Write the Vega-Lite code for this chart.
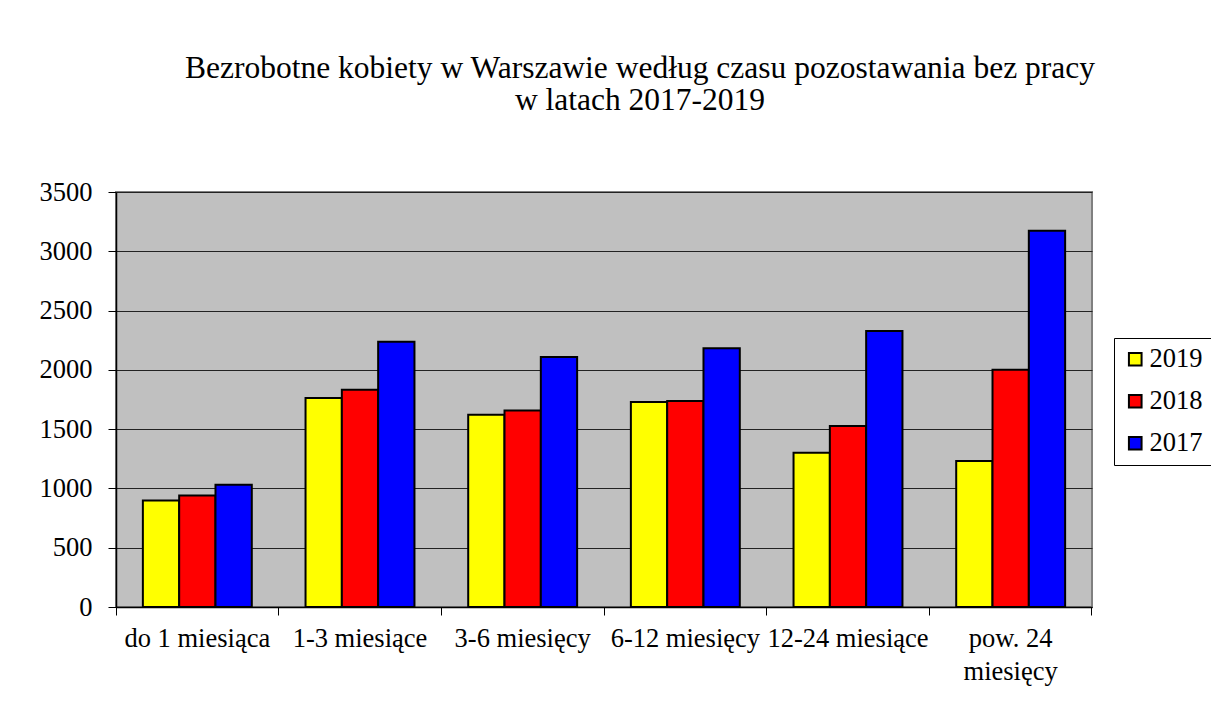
{
  "$schema": "https://vega.github.io/schema/vega-lite/v6.json",
  "autosize": {"type": "none"},
  "padding": {"left": 116, "top": 192, "right": 119, "bottom": 115},
  "width": 976,
  "height": 415,
  "background": "white",
  "title": {
    "text": ["Bezrobotne kobiety w Warszawie według czasu pozostawania bez pracy", "w latach 2017-2019"],
    "font": "Liberation Serif",
    "fontSize": 31.5,
    "fontWeight": "normal",
    "color": "black",
    "anchor": "middle",
    "frame": "group",
    "dx": 36,
    "offset": 63,
    "lineHeight": 32
  },
  "config": {
    "view": {"fill": "#C0C0C0", "stroke": "#808080", "strokeWidth": 2},
    "axis": {
      "labelFont": "Liberation Serif",
      "labelFontSize": 26.5,
      "labelColor": "black",
      "domainColor": "black",
      "domainWidth": 1.5,
      "tickColor": "black",
      "tickWidth": 1,
      "tickSize": 8,
      "title": null
    },
    "legend": {
      "labelFont": "Liberation Serif",
      "labelFontSize": 26.5,
      "labelColor": "black"
    }
  },
  "data": {
    "values": [
      {"kategoria": "do 1 miesiąca", "rok": "2019", "wartosc": 899},
      {"kategoria": "do 1 miesiąca", "rok": "2018", "wartosc": 941},
      {"kategoria": "do 1 miesiąca", "rok": "2017", "wartosc": 1032},
      {"kategoria": "1-3 miesiące", "rok": "2019", "wartosc": 1762},
      {"kategoria": "1-3 miesiące", "rok": "2018", "wartosc": 1833},
      {"kategoria": "1-3 miesiące", "rok": "2017", "wartosc": 2237},
      {"kategoria": "3-6 miesięcy", "rok": "2019", "wartosc": 1622},
      {"kategoria": "3-6 miesięcy", "rok": "2018", "wartosc": 1658},
      {"kategoria": "3-6 miesięcy", "rok": "2017", "wartosc": 2108},
      {"kategoria": "6-12 miesięcy", "rok": "2019", "wartosc": 1728},
      {"kategoria": "6-12 miesięcy", "rok": "2018", "wartosc": 1737},
      {"kategoria": "6-12 miesięcy", "rok": "2017", "wartosc": 2183},
      {"kategoria": "12-24 miesiące", "rok": "2019", "wartosc": 1301},
      {"kategoria": "12-24 miesiące", "rok": "2018", "wartosc": 1526},
      {"kategoria": "12-24 miesiące", "rok": "2017", "wartosc": 2327},
      {"kategoria": "pow. 24 miesięcy", "rok": "2019", "wartosc": 1231},
      {"kategoria": "pow. 24 miesięcy", "rok": "2018", "wartosc": 2001},
      {"kategoria": "pow. 24 miesięcy", "rok": "2017", "wartosc": 3173}
    ]
  },
  "mark": {"type": "bar", "stroke": "black", "strokeWidth": 2},
  "encoding": {
    "x": {
      "field": "kategoria",
      "type": "nominal",
      "sort": ["do 1 miesiąca", "1-3 miesiące", "3-6 miesięcy", "6-12 miesięcy", "12-24 miesiące", "pow. 24 miesięcy"],
      "scale": {"paddingInner": 0, "paddingOuter": 0},
      "axis": {
        "labelAngle": 0,
        "labelPadding": 10,
        "labelLineHeight": 33,
        "labelBaseline": "top",
        "labelLimit": 200,
        "bandPosition": 1,
        "tickExtra": true,
        "labelExpr": "datum.value == 'pow. 24 miesięcy' ? ['pow. 24', 'miesięcy'] : datum.value"
      }
    },
    "xOffset": {
      "field": "rok",
      "type": "nominal",
      "sort": ["2019", "2018", "2017"],
      "scale": {"paddingInner": 0, "paddingOuter": 0.74}
    },
    "y": {
      "field": "wartosc",
      "type": "quantitative",
      "scale": {"domain": [0, 3500], "nice": false},
      "axis": {
        "values": [0, 500, 1000, 1500, 2000, 2500, 3000, 3500],
        "format": "d",
        "grid": true,
        "gridColor": "#222222",
        "gridWidth": 1,
        "labelPadding": 16
      }
    },
    "color": {
      "field": "rok",
      "type": "nominal",
      "sort": ["2019", "2018", "2017"],
      "scale": {"domain": ["2019", "2018", "2017"], "range": ["#FFFF00", "#FF0000", "#0000FF"]},
      "legend": {
        "title": null,
        "orient": "none",
        "legendX": 998,
        "legendY": 146,
        "strokeColor": "black",
        "fillColor": "white",
        "padding": 8,
        "rowPadding": 15,
        "symbolType": "square",
        "symbolSize": 160,
        "symbolStrokeColor": "black",
        "symbolStrokeWidth": 2,
        "labelOffset": 1
      }
    }
  }
}
